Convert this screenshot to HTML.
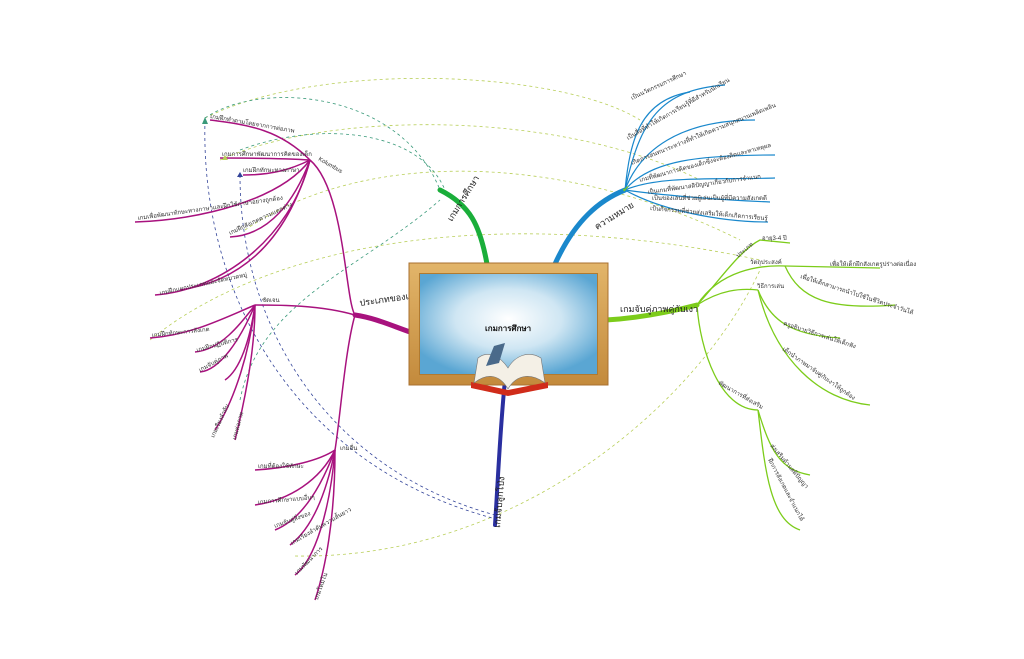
<!DOCTYPE html>
<html><head><meta charset="utf-8"><style>
html,body{margin:0;padding:0;background:#fff;width:1024px;height:659px;overflow:hidden}
svg{display:block}
text{font-family:"Liberation Sans","Noto Sans CJK SC",sans-serif;font-size:6px;fill:#333}
.b{font-size:9px;fill:#222}
</style></head><body>
<svg width="1024" height="659" viewBox="0 0 1024 659">
<defs>
<radialGradient id="bd" cx="50%" cy="45%" r="60%"><stop offset="0" stop-color="#ffffff"/><stop offset="0.5" stop-color="#cfe6f3"/><stop offset="1" stop-color="#5aa6d3"/></radialGradient>
<linearGradient id="fr" x1="0" y1="0" x2="0" y2="1"><stop offset="0" stop-color="#e2b56a"/><stop offset="1" stop-color="#c38a3c"/></linearGradient>
</defs>
<g fill="none" stroke-width="0.8" stroke-dasharray="3,3">
<path d="M205,118 C320,60 560,70 640,120" stroke="#b9cf5a"/>
<path d="M220,160 C330,110 560,110 700,180" stroke="#b9cf5a"/>
<path d="M245,230 C360,150 560,150 740,240" stroke="#b9cf5a"/>
<path d="M150,340 C260,250 480,200 760,260" stroke="#b9cf5a"/>
<path d="M295,556 C520,560 700,400 760,270" stroke="#b9cf5a"/>
<path d="M205,118 C260,80 400,90 440,190" stroke="#3a9a7a"/>
<path d="M240,150 C320,120 420,130 445,190" stroke="#3a9a7a"/>
<path d="M240,400 C260,300 360,270 440,200" stroke="#3a9a7a"/>
<path d="M205,120 C200,300 300,470 500,520" stroke="#334499"/>
<path d="M240,175 C240,330 330,470 495,515" stroke="#334499"/>
</g>
<g fill="none" stroke-linecap="round">
<path d="M487,264 C480,225 470,205 440,190" stroke="#1aae3a" stroke-width="5"/>
<path d="M555,264 C575,220 600,200 625,190" stroke="#1a88cc" stroke-width="5"/>
<path d="M606,320 C640,318 670,312 697,305" stroke="#7ccc1a" stroke-width="5"/>
<path d="M410,332 C390,325 375,318 355,315" stroke="#a8127e" stroke-width="5"/>
<path d="M505,380 C500,430 498,480 495,525" stroke="#2a2fa0" stroke-width="4"/>
</g>
<g fill="none" stroke="#1a88cc" stroke-width="1.2">
<path d="M625,190 C630,140 640,100 690,92"/>
<path d="M625,190 C640,120 660,90 725,85"/>
<path d="M625,190 C640,150 680,120 755,120"/>
<path d="M625,190 C650,160 700,155 775,155"/>
<path d="M625,190 C660,175 720,180 775,178"/>
<path d="M625,190 C660,195 720,200 770,202"/>
<path d="M625,190 C660,210 720,222 768,222"/>
</g>
<g>
<text transform="translate(632,100) rotate(-25)">เป็นนวัตกรรมการศึกษา</text>
<text transform="translate(628,140) rotate(-30)">เป็นสื่อที่ทำให้เกิดการเรียนรู้ที่ดีสำหรับนักเรียน</text>
<text transform="translate(632,165) rotate(-22)">เกิดการสนทนาระหว่างที่ทำให้เกิดความสนุกสนานเพลิดเพลิน</text>
<text transform="translate(640,182) rotate(-15)">เกมที่พัฒนาการคิดของเด็กซึ่งจะต้องคิดและหาเหตุผล</text>
<text transform="translate(648,194) rotate(-8)">เป็นเกมที่พัฒนาสติปัญญาเกี่ยวกับการจำแนก</text>
<text x="652" y="200">เป็นของเล่นที่ช่วยผู้เล่นเป็นผู้ที่มีความสังเกตดี</text>
<text transform="translate(650,210) rotate(5)">เป็นกิจกรรมที่ช่วยส่งเสริมให้เด็กเกิดการเรียนรู้</text>
<text class="b" transform="translate(597,230) rotate(-32)">ความหมาย</text>
<text x="622" y="192" style="fill:#7ccc1a;font-size:9px">✔</text>
</g>
<g fill="none" stroke="#7ccc1a" stroke-width="1.3">
<path d="M697,305 C720,280 740,250 760,240 L790,243"/>
<path d="M697,305 C720,270 760,265 785,266 L880,268"/>
<path d="M785,266 C800,300 830,310 895,305"/>
<path d="M697,305 C720,290 740,288 758,290"/>
<path d="M758,290 C770,320 790,335 840,338"/>
<path d="M758,290 C775,360 820,400 870,405"/>
<path d="M697,305 C700,350 720,410 758,410"/>
<path d="M758,410 C770,450 780,470 810,475"/>
<path d="M758,410 C765,470 770,520 800,530"/>
</g>
<g>
<text class="b" x="620" y="312">เกมจับคู่ภาพคู่กับเงา</text>
<text transform="translate(738,258) rotate(-40)">ประเภท</text>
<text x="762" y="240">อายุ3-4 ปี</text>
<text x="750" y="264">วัตถุประสงค์</text>
<text x="830" y="266">เพื่อให้เด็กฝึกสังเกตรูปร่างต่อเนื่อง</text>
<text transform="translate(800,278) rotate(18)">เพื่อให้เด็กสามารถนำไปใช้ในชีวิตประจำวันได้</text>
<text x="757" y="288">วิธีการเล่น</text>
<text transform="translate(783,325) rotate(18)">ครูอธิบายวิธีการเล่นให้เด็กฟัง</text>
<text transform="translate(782,350) rotate(35)">เด็กนำภาพมาจับคู่กับเงาให้ถูกต้อง</text>
<text transform="translate(718,384) rotate(30)">พัฒนาการที่ส่งเสริม</text>
<text transform="translate(770,446) rotate(50)">ส่งเสริมด้านสติปัญญา</text>
<text transform="translate(768,460) rotate(62)">ฝึกการสังเกตและจำแนกได้</text>
</g>
<g fill="none" stroke="#a8127e" stroke-width="1.5">
<path d="M355,315 C345,300 345,190 310,160"/>
<path d="M355,315 C320,305 280,305 255,305"/>
<path d="M355,315 C345,350 340,420 335,450"/>
<path d="M310,160 C280,130 250,125 210,120"/>
<path d="M310,160 C280,158 250,158 220,158"/>
<path d="M310,160 C290,170 270,175 243,175"/>
<path d="M310,160 C280,200 200,220 135,222"/>
<path d="M310,160 C295,200 270,235 230,237"/>
<path d="M310,160 C290,240 220,290 155,295"/>
<path d="M310,160 C290,230 250,280 180,290"/>
<path d="M255,305 C220,320 190,335 150,338"/>
<path d="M255,305 C240,325 220,350 195,352"/>
<path d="M255,305 C240,340 220,370 200,372"/>
<path d="M255,305 C250,340 240,370 225,380"/>
<path d="M255,305 C250,350 235,400 215,430"/>
<path d="M255,305 C255,350 245,400 235,440"/>
<path d="M335,450 C320,460 290,468 255,470"/>
<path d="M335,450 C320,480 290,500 255,505"/>
<path d="M335,450 C320,490 300,520 275,530"/>
<path d="M335,450 C325,500 310,530 290,545"/>
<path d="M335,450 C330,510 315,560 295,575"/>
<path d="M335,450 C335,520 325,570 315,600"/>
</g>
<g>
<text class="b" transform="translate(360,306) rotate(-8)">ประเภทของเกม</text>
<text transform="translate(318,160) rotate(30)">Kolumbus</text>
<text transform="translate(210,118) rotate(10)">เกมฝึกทำตามโดยจากการต่อภาพ</text>
<text x="222" y="156">เกมการศึกษาพัฒนาการคิดของเด็ก</text>
<text x="243" y="172">เกมฝึกทักษะทางภาษา</text>
<text transform="translate(138,220) rotate(-8)">เกมเพื่อพัฒนาทักษะทางภาษาและฝึกใช้ภาษาอย่างถูกต้อง</text>
<text transform="translate(230,235) rotate(-25)">เกมฝึกสังเกตความแตกต่าง</text>
<text transform="translate(160,295) rotate(-12)">เกมฝึกแยกประเภทและจัดหมวดหมู่</text>
<text x="262" y="302">ชัดเจน</text>
<text transform="translate(152,337) rotate(-6)">เกมฝึกทักษะการสังเกต</text>
<text transform="translate(197,352) rotate(-15)">เกมฝึกปฏิบัติการ</text>
<text transform="translate(200,372) rotate(-28)">เกมจับคู่ภาพ</text>
<text transform="translate(214,438) rotate(-65)">เกมเรียงลำดับ</text>
<text transform="translate(236,440) rotate(-75)">เกมต่อภาพ</text>
<text x="340" y="450">เกมอื่น</text>
<text x="258" y="468">เกมที่ต้องใช้ทักษะ</text>
<text transform="translate(258,504) rotate(-5)">เกมการศึกษาแบบอื่นๆ</text>
<text transform="translate(275,528) rotate(-20)">เกมจับคู่สิ่งของ</text>
<text transform="translate(292,545) rotate(-30)">เกมเรียงลำดับความสั้นยาว</text>
<text transform="translate(297,575) rotate(-45)">เกมพัฒนาการ</text>
<text transform="translate(318,600) rotate(-70)">เกมโดมิโน</text>
</g>
<text class="b" transform="translate(452,222) rotate(-58)">เกมการศึกษา</text>
<text class="b" transform="translate(500,528) rotate(-85)">เกมจับลูกโป่ง</text>
<g fill="#3a9a7a"><polygon points="205,117 208,124 202,124"/><polygon points="225,155 228,160 222,160" fill="#b9cf5a"/><polygon points="240,172 243,177 237,177" fill="#334499"/></g>
<rect x="409" y="263" width="199" height="122" fill="url(#fr)" stroke="#a87030"/>
<rect x="419" y="273" width="179" height="102" fill="#b07a30"/>
<rect x="420" y="274" width="177" height="100" fill="url(#bd)"/>
<text x="485" y="331" style="font-size:8px;fill:#111;font-weight:bold">เกมการศึกษา</text>
<path d="M471,388 L508,396 L548,388 L548,382 L508,390 L471,382Z" fill="#d02c1a"/>
<path d="M474,383 C488,372 500,375 508,389 C516,375 530,372 545,383 L541,358 C528,350 515,356 508,368 C500,356 488,350 478,358Z" fill="#f4f0e6" stroke="#777" stroke-width="0.6"/>
<path d="M486,366 L494,346 L505,343 L499,363Z" fill="#4a6a8a"/>
</svg>
</body></html>
